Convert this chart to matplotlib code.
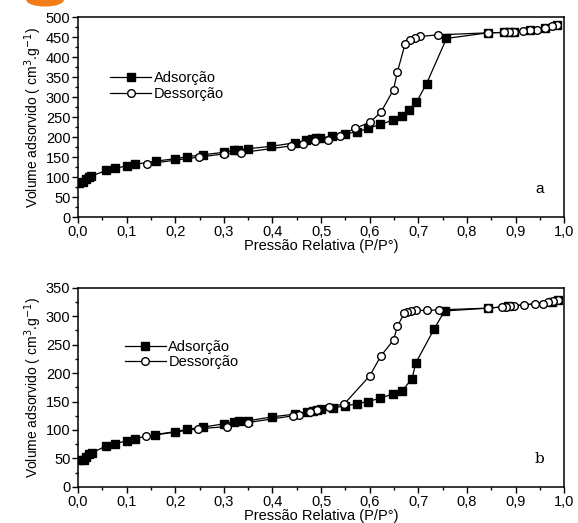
import numpy as np
import matplotlib
matplotlib.use("Agg")
import matplotlib.pyplot as plt
from matplotlib.patches import Ellipse

plt.rcParams["font.family"] = ["Liberation Sans", "DejaVu Sans"]

# panel a
ADS_A_X = [0.002, 0.01, 0.017, 0.022, 0.027, 0.058, 0.077, 0.1, 0.118, 0.16, 0.2, 0.224,
           0.258, 0.3, 0.32, 0.33, 0.35, 0.397, 0.447, 0.47, 0.481, 0.489, 0.498, 0.522,
           0.549, 0.573, 0.597, 0.622, 0.647, 0.666, 0.681, 0.696, 0.717, 0.758,
           0.843, 0.876, 0.886, 0.896, 0.93, 0.961, 0.985]
ADS_A_Y = [86, 87, 96, 100, 102, 117, 122, 128, 132, 140, 146, 151,
           156, 162, 167, 168, 171, 177, 186, 192, 196, 198, 198, 202,
           208, 213, 222, 232, 242, 252, 269, 287, 334, 447,
           461, 462, 462, 464, 467, 473, 480]
DES_A_X = [0.985, 0.975, 0.961, 0.945, 0.93, 0.915, 0.896, 0.886, 0.876, 0.843, 0.741,
           0.704, 0.693, 0.682, 0.673, 0.657, 0.649, 0.623, 0.6, 0.57, 0.539, 0.515,
           0.488, 0.463, 0.438, 0.335, 0.3, 0.248, 0.142]
DES_A_Y = [480, 478, 473, 469, 467, 465, 464, 462, 462, 461, 456,
           452, 449, 444, 434, 363, 319, 262, 237, 222, 203, 194,
           190, 182, 178, 161, 158, 150, 133]

# panel b
ADS_B_X = [0.003, 0.012, 0.017, 0.022, 0.029, 0.058, 0.077, 0.1, 0.118, 0.159, 0.199, 0.224,
           0.258, 0.301, 0.32, 0.332, 0.349, 0.399, 0.447, 0.471, 0.483, 0.491, 0.5, 0.524,
           0.549, 0.573, 0.597, 0.622, 0.647, 0.666, 0.687, 0.695, 0.733, 0.754,
           0.843, 0.885, 0.975, 0.988]
ADS_B_Y = [47, 47, 53, 57, 60, 72, 76, 81, 85, 92, 97, 101,
           105, 111, 114, 115, 116, 123, 128, 132, 134, 135, 136, 139,
           142, 146, 150, 156, 163, 168, 190, 218, 278, 309,
           314, 317, 325, 328]
DES_B_X = [0.988, 0.978, 0.967, 0.957, 0.94, 0.918, 0.896, 0.888, 0.881, 0.872, 0.843,
           0.743, 0.717, 0.696, 0.686, 0.677, 0.671, 0.657, 0.649, 0.623, 0.6, 0.548,
           0.517, 0.491, 0.477, 0.455, 0.443, 0.349, 0.306, 0.247, 0.14]
DES_B_Y = [328, 326, 324, 322, 321, 320, 318, 317, 316, 316, 314,
           311, 310, 310, 309, 308, 305, 282, 258, 230, 195, 146,
           140, 135, 131, 126, 125, 113, 106, 102, 89]

PANELS = [
    dict(ads=(ADS_A_X, ADS_A_Y), des=(DES_A_X, DES_A_Y), ymax=500, ystep=50,
         tag="a", tag_family="Liberation Sans", rect=[0.135, 0.585, 0.841, 0.382],
         leg_anchor=(0.045, 0.78)),
    dict(ads=(ADS_B_X, ADS_B_Y), des=(DES_B_X, DES_B_Y), ymax=350, ystep=50,
         tag="b", tag_family="DejaVu Serif", rect=[0.135, 0.069, 0.841, 0.381],
         leg_anchor=(0.075, 0.79)),
]


def style_axis(ax, ymax, ystep):
    ax.set_xlim(0, 1.0)
    ax.set_ylim(0, ymax)
    ax.set_xticks(np.arange(0, 1.01, 0.1))
    ax.set_xticks(np.arange(0.05, 1.0, 0.1), minor=True)
    ax.set_xticklabels([f"{v:.1f}".replace(".", ",") for v in np.arange(0, 1.01, 0.1)])
    ax.set_yticks(np.arange(0, ymax + 1, ystep))
    ax.set_yticks(np.arange(ystep / 2, ymax, ystep), minor=True)
    ax.tick_params(which="major", direction="out", length=4, width=1, labelsize=10.5, pad=1.5)
    ax.tick_params(which="minor", direction="out", length=2, width=1)
    for s in ax.spines.values():
        s.set_linewidth(1.1)
    ax.set_xlabel("Pressão Relativa (P/P°)", fontsize=10.5, labelpad=0)
    ax.set_ylabel("Volume adsorvido ( cm$^3$.g$^{-1}$)", fontsize=10, labelpad=1)


def main():
    fig = plt.figure(figsize=(5.78, 5.23), dpi=100)
    fig.patches.append(Ellipse((0.078, 1.0), 0.065, 0.025, transform=fig.transFigure,
                               facecolor="#f07d1a", edgecolor="none"))
    for p in PANELS:
        ax = fig.add_axes(p["rect"])
        ax.plot(*p["ads"], color="black", lw=0.9, marker="s", ms=5.5,
                mfc="black", mec="black", label="Adsorção", zorder=2)
        ax.plot(*p["des"], color="black", lw=0.9, marker="o", ms=5.5,
                mfc="white", mec="black", mew=1.0, label="Dessorção", zorder=3)
        style_axis(ax, p["ymax"], p["ystep"])
        ax.legend(loc="upper left", bbox_to_anchor=p["leg_anchor"], frameon=False,
                  fontsize=10.5, handlelength=2.8, handletextpad=0.2,
                  labelspacing=0.1, borderpad=0.2)
        ax.text(0.95, 0.14, p["tag"], transform=ax.transAxes, fontsize=11,
                ha="center", va="center", family=p["tag_family"])
    fig.savefig("out.png", dpi=100)
    plt.close(fig)


if __name__ == "__main__":
    main()
